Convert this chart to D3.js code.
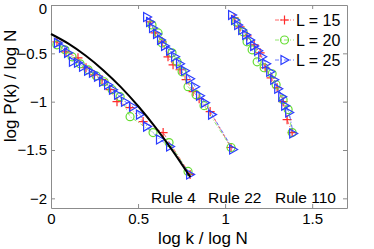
<!DOCTYPE html>
<html>
<head>
<meta charset="utf-8">
<script src="https://cdn.jsdelivr.net/npm/d3@7"></script>
<style>
  body { margin: 0; background: #fff; }
  svg { display: block; font-family: "Liberation Sans", Arial, Helvetica, sans-serif; }
</style>
</head>
<body>
<svg id="chart" width="374" height="249"></svg>
<script>
const width = 374;
const height = 249;
const box = { left: 51, top: 5, right: 347, bottom: 208 };

const xTicks = [0, 0.5, 1, 1.5];
const yTicks = [0, -0.5, -1, -1.5, -2];
const seriesNames = ['L = 15', 'L = 20', 'L = 25'];
const ruleNames = ['Rule 4', 'Rule 22', 'Rule 110'];

// rule 4
const rule4L15 = [[0.034,-0.381],[0.086,-0.485],[0.155,-0.546],[0.201,-0.649],[0.247,-0.722],[0.293,-0.773],[0.339,-0.876],[0.379,-1.000],[0.454,-1.062],[0.529,-1.206],[0.644,-1.320],[0.799,-1.753]];
const rule4L20 = [[0.034,-0.412],[0.080,-0.464],[0.121,-0.536],[0.167,-0.608],[0.213,-0.670],[0.259,-0.732],[0.305,-0.794],[0.351,-0.876],[0.397,-0.948],[0.454,-1.155],[0.586,-1.320],[0.678,-1.423],[0.787,-1.722]];
const rule4L25 = [[0.040,-0.392],[0.069,-0.443],[0.098,-0.495],[0.126,-0.588],[0.155,-0.598],[0.184,-0.639],[0.213,-0.680],[0.241,-0.701],[0.270,-0.742],[0.299,-0.794],[0.328,-0.825],[0.356,-0.876],[0.385,-0.928],[0.425,-1.000],[0.471,-1.052],[0.511,-1.134],[0.552,-1.258],[0.626,-1.392],[0.684,-1.464],[0.799,-1.753]];

// rule 22
const rule22L15 = [[0.569,-0.175],[0.598,-0.289],[0.638,-0.381],[0.672,-0.536],[0.701,-0.619],[0.741,-0.670],[0.776,-0.773],[0.816,-0.897],[0.851,-0.969],[0.914,-1.103],[1.034,-1.474]];
const rule22L20 = [[0.580,-0.206],[0.615,-0.289],[0.638,-0.392],[0.695,-0.495],[0.724,-0.588],[0.753,-0.691],[0.787,-0.845],[0.833,-0.928],[0.879,-1.041],[1.034,-1.474]];
const rule22L25 = [[0.552,-0.124],[0.569,-0.175],[0.586,-0.237],[0.609,-0.299],[0.632,-0.361],[0.655,-0.423],[0.684,-0.474],[0.713,-0.536],[0.741,-0.608],[0.770,-0.680],[0.799,-0.763],[0.828,-0.845],[0.856,-0.938],[0.885,-1.010],[0.925,-1.134],[1.046,-1.495]];

// rule 110
const rule110L15 = [[1.052,-0.134],[1.086,-0.227],[1.126,-0.320],[1.167,-0.412],[1.201,-0.495],[1.230,-0.649],[1.264,-0.753],[1.299,-0.856],[1.333,-1.000],[1.356,-1.186],[1.385,-1.320]];
const rule110L20 = [[1.063,-0.175],[1.103,-0.278],[1.126,-0.381],[1.155,-0.464],[1.184,-0.588],[1.224,-0.649],[1.270,-0.711],[1.293,-0.825],[1.333,-0.979],[1.362,-1.082],[1.385,-1.320]];
const rule110L25 = [[1.040,-0.103],[1.057,-0.155],[1.075,-0.206],[1.098,-0.258],[1.121,-0.309],[1.144,-0.361],[1.167,-0.423],[1.190,-0.474],[1.213,-0.536],[1.236,-0.608],[1.259,-0.691],[1.282,-0.773],[1.305,-0.866],[1.328,-0.948],[1.345,-1.041],[1.368,-1.113],[1.391,-1.330]];

// black fitted curve
const fitX = [0, 0.1, 0.2, 0.3, 0.4, 0.5, 0.6, 0.7, 0.8];
const fitY = [-0.30, -0.40, -0.525, -0.674, -0.847, -1.045, -1.266, -1.511, -1.78];

const colors = ['#ff2a2a', '#66dd33', '#2a3cff'];
const markers = ['plus', 'circle', 'triangle'];
const data = [
  [rule4L15, rule22L15, rule110L15],
  [rule4L20, rule22L20, rule110L20],
  [rule4L25, rule22L25, rule110L25]
];

const svg = d3.select('#chart');

const x = d3.scaleLinear().domain([0, 1.7]).range([box.left, box.right]);
const y = d3.scaleLinear().domain([-2.1, 0]).range([box.bottom, box.top]);

const fmt = d => d === 0 ? '0' : (d < 0 ? '\u2212' + Math.abs(d) : String(d));

function markerPath(type) {
  if (type === 'plus') return 'M-4.5,0H4.5M0,-4.5V4.5';
  if (type === 'circle') return d3.symbol(d3.symbolCircle, 50)();
  return 'M-3.5,-4.5L4.5,0L-3.5,4.5Z';
}

// AXES
const axisColor = '#8c8c8c';
const gx = svg.append('g').attr('transform', `translate(0,${box.bottom})`)
  .call(d3.axisBottom(x).tickValues(xTicks).tickFormat(fmt).tickSize(-4).tickSizeOuter(0).tickPadding(5));
const gxt = svg.append('g').attr('transform', `translate(0,${box.top})`)
  .call(d3.axisTop(x).tickValues(xTicks).tickFormat('').tickSize(-4).tickSizeOuter(0));
const gy = svg.append('g').attr('transform', `translate(${box.left},0)`)
  .call(d3.axisLeft(y).tickValues(yTicks).tickFormat(fmt).tickSize(-4).tickSizeOuter(0).tickPadding(4));
const gyr = svg.append('g').attr('transform', `translate(${box.right},0)`)
  .call(d3.axisRight(y).tickValues(yTicks).tickFormat('').tickSize(-4).tickSizeOuter(0));

[gx, gxt, gy, gyr].forEach(g => {
  g.selectAll('path, line').attr('stroke', axisColor).attr('stroke-width', 1);
  g.selectAll('text').attr('fill', '#000').attr('font-size', 15).attr('font-family', null);
});
// keep the top "0" inside the picture
gy.selectAll('.tick').filter(d => d === 0).select('text').attr('dy', '0.55em');

// SERIES
const line = d3.line().x(d => x(d[0])).y(d => y(d[1]));

data.forEach((rules, s) => {
  const g = svg.append('g');
  rules.forEach(pts => {
    g.append('path')
      .attr('d', line(pts))
      .attr('fill', 'none')
      .attr('stroke', colors[s])
      .attr('stroke-width', 1)
      .attr('stroke-opacity', 0.7)
      .attr('stroke-dasharray', '4,2,1,2');
    g.selectAll(null).data(pts).enter().append('path')
      .attr('d', markerPath(markers[s]))
      .attr('transform', d => `translate(${x(d[0])},${y(d[1])})`)
      .attr('fill', 'none')
      .attr('stroke', colors[s])
      .attr('stroke-width', 1.2);
  });
});

// FIT CURVE
svg.append('path')
  .attr('d', d3.line().curve(d3.curveMonotoneX)
    .x((d, i) => x(fitX[i])).y((d, i) => y(fitY[i]))(fitX))
  .attr('fill', 'none')
  .attr('stroke', '#000')
  .attr('stroke-width', 2);

// RULE LABELS
const ruleX = [151, 208, 275];
ruleNames.forEach((name, i) => {
  svg.append('text')
    .attr('x', ruleX[i])
    .attr('y', 203)
    .attr('font-size', 15.5)
    .text(name);
});

// LEGEND
seriesNames.forEach((name, i) => {
  const ly = 20 + i * 20;
  svg.append('line')
    .attr('x1', 275).attr('x2', 294).attr('y1', ly).attr('y2', ly)
    .attr('stroke', colors[i]).attr('stroke-width', 1)
    .attr('stroke-opacity', 0.7)
    .attr('stroke-dasharray', '4,2,1,2');
  svg.append('path')
    .attr('d', markerPath(markers[i]))
    .attr('transform', `translate(284.5,${ly})`)
    .attr('fill', 'none')
    .attr('stroke', colors[i])
    .attr('stroke-width', 1.2);
  svg.append('text')
    .attr('x', 296)
    .attr('y', ly)
    .attr('dy', '0.36em')
    .attr('font-size', 16)
    .text(name);
});

// AXIS LABELS
svg.append('text')
  .attr('x', 203)
  .attr('y', 244)
  .attr('text-anchor', 'middle')
  .attr('font-size', 17)
  .text('log k / log N');

svg.append('text')
  .attr('transform', 'translate(16,86) rotate(-90)')
  .attr('text-anchor', 'middle')
  .attr('font-size', 17)
  .text('log P(k) / log N');
</script>
</body>
</html>
